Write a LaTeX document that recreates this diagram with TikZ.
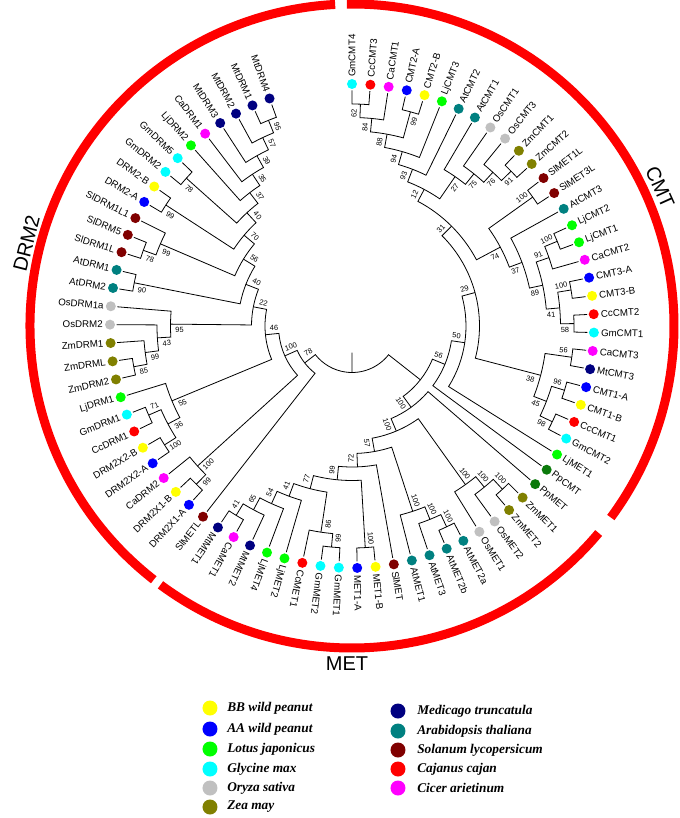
\documentclass[tikz,border=0pt]{standalone}
\usepackage{fontspec}
\setmainfont{Liberation Sans}
\newfontfamily\legfont{Liberation Serif}
\definecolor{cyB}{HTML}{00FFFF}
\definecolor{rdB}{HTML}{FF0000}
\definecolor{mgB}{HTML}{FF00FF}
\definecolor{blB}{HTML}{0000FF}
\definecolor{ylB}{HTML}{FFFF00}
\definecolor{grB}{HTML}{00FF00}
\definecolor{tlB}{HTML}{008080}
\definecolor{gyB}{HTML}{C0C0C0}
\definecolor{olB}{HTML}{808000}
\definecolor{drB}{HTML}{800000}
\definecolor{nvB}{HTML}{000080}
\definecolor{dgB}{HTML}{0B7A0B}
\newcommand\dA{4.36}
\newcommand\Rz{235.5}
\newcommand\St{13.5}
\newcommand\lf[3]{%
  \pgfmathsetmacro\mya{#1*\dA}%
  \expandafter\xdef\csname A@#2\endcsname{\mya}%
  \expandafter\xdef\csname H@#2\endcsname{0}%
  \pgfmathsetmacro\myp{90-\mya}%
  \node[dot, fill=#3] (#2) at (\myp:242) {};
  \ifnum#1<50
    \node[lab, anchor=west, rotate=\myp] (#2-t) at (\myp:249) {#2};
  \else
    \node[lab, anchor=east, rotate=\myp+180] (#2-t) at (\myp:249) {#2};
  \fi}
\newcommand\cl[5]{%
  \edef\ca{\csname A@#2\endcsname}\edef\cb{\csname A@#3\endcsname}%
  \edef\ha{\csname H@#2\endcsname}\edef\hb{\csname H@#3\endcsname}%
  \pgfmathsetmacro\mya{(\ca+\cb)/2}%
  \pgfmathtruncatemacro\myh{1+max(\ha,\hb)}%
  \expandafter\xdef\csname A@#1\endcsname{\mya}%
  \expandafter\xdef\csname H@#1\endcsname{\myh}%
  \pgfmathsetmacro\myr{\Rz-\St*\myh}%
  \pgfmathsetmacro\rA{\Rz-\St*\ha}%
  \pgfmathsetmacro\rB{\Rz-\St*\hb}%
  \pgfmathsetmacro\pA{90-\ca}%
  \pgfmathsetmacro\pB{90-\cb}%
  \draw[br] (\pA:\rA) -- (\pA:\myr) arc[start angle=\pA, end angle=\pB, radius=\myr] -- (\pB:\rB);
  \ifnum#5=0 \else
    \pgfmathsetmacro\lr{\myr-9}%
    \pgfmathsetmacro\lt{\mya+#5*6/\lr*57.2958}%
    \pgfmathsetmacro\lp{90-\lt}%
    \pgfmathsetmacro\lrot{\lt<180 ? \lp : \lp+180}%
    \node[bs, rotate=\lrot] (b#1) at (\lp:\lr) {#4};
  \fi}
\begin{document}
\begin{tikzpicture}[x=0.75pt,y=0.75pt,
  br/.style={line width=0.6pt, black},
  dot/.style={circle, inner sep=0pt, minimum size=7.5pt, draw=none},
  lab/.style={inner sep=0pt, font=\fontsize{7.3}{8}\selectfont},
  bs/.style={inner sep=0pt, font=\fontsize{5.6}{6}\selectfont},
  grp/.style={line width=6.75pt, rdB},
  grplab/.style={inner sep=0pt, font=\fontsize{15}{16}\selectfont},
  legdot/.style={circle, inner sep=0pt, minimum size=11.25pt, draw=none},
  legtxt/.style={inner sep=0pt, anchor=west, font=\legfont\bfseries\itshape\fontsize{10}{12}\selectfont}]
\useasboundingbox (-352,-492) rectangle (328,326);
% leaves
\lf{0}{GmCMT4}{cyB}
\lf{1}{CcCMT3}{rdB}
\lf{2}{CaCMT1}{mgB}
\lf{3}{CMT2-A}{blB}
\lf{4}{CMT2-B}{ylB}
\lf{5}{LjCMT3}{grB}
\lf{6}{AtCMT2}{tlB}
\lf{7}{AtCMT1}{tlB}
\lf{8}{OsCMT1}{gyB}
\lf{9}{OsCMT3}{gyB}
\lf{10}{ZmCMT1}{olB}
\lf{11}{ZmCMT2}{olB}
\lf{12}{SlMET1L}{drB}
\lf{13}{SlMET3L}{drB}
\lf{14}{AtCMT3}{tlB}
\lf{15}{LjCMT2}{grB}
\lf{16}{LjCMT1}{grB}
\lf{17}{CaCMT2}{mgB}
\lf{18}{CMT3-A}{blB}
\lf{19}{CMT3-B}{ylB}
\lf{20}{CcCMT2}{rdB}
\lf{21}{GmCMT1}{cyB}
\lf{22}{CaCMT3}{mgB}
\lf{23}{MtCMT3}{nvB}
\lf{24}{CMT1-A}{blB}
\lf{25}{CMT1-B}{ylB}
\lf{26}{CcCMT1}{rdB}
\lf{27}{GmCMT2}{cyB}
\lf{28}{LjMET1}{grB}
\lf{29}{PpCMT}{dgB}
\lf{30}{PpMET}{dgB}
\lf{31}{ZmMET1}{olB}
\lf{32}{ZmMET2}{olB}
\lf{33}{OsMET2}{gyB}
\lf{34}{OsMET1}{gyB}
\lf{35}{AtMET2a}{tlB}
\lf{36}{AtMET2b}{tlB}
\lf{37}{AtMET3}{tlB}
\lf{38}{AtMET1}{tlB}
\lf{39}{SlMET}{drB}
\lf{40}{MET1-B}{ylB}
\lf{41}{MET1-A}{blB}
\lf{42}{GmMET1}{cyB}
\lf{43}{GmMET2}{cyB}
\lf{44}{CcMET1}{rdB}
\lf{45}{LjMET2}{grB}
\lf{46}{LjMET4}{grB}
\lf{47}{MtMET2}{nvB}
\lf{48}{CaMET1}{mgB}
\lf{49}{MtMET1}{nvB}
\lf{50}{SlMETL}{drB}
\lf{51}{DRM2X1-A}{blB}
\lf{52}{DRM2X1-B}{ylB}
\lf{53}{CaDRM2}{mgB}
\lf{54}{DRM2X2-A}{blB}
\lf{55}{DRM2X2-B}{ylB}
\lf{56}{CcDRM1}{rdB}
\lf{57}{GmDRM1}{cyB}
\lf{58}{LjDRM1}{grB}
\lf{59}{ZmDRM2}{olB}
\lf{60}{ZmDRML}{olB}
\lf{61}{ZmDRM1}{olB}
\lf{62}{OsDRM2}{gyB}
\lf{63}{OsDRM1a}{gyB}
\lf{64}{AtDRM2}{tlB}
\lf{65}{AtDRM1}{tlB}
\lf{66}{SlDRM1L}{drB}
\lf{67}{SlDRM5}{drB}
\lf{68}{SlDRM1L1}{drB}
\lf{69}{DRM2-A}{blB}
\lf{70}{DRM2-B}{ylB}
\lf{71}{GmDRM2}{cyB}
\lf{72}{GmDRM5}{cyB}
\lf{73}{LjDRM2}{grB}
\lf{74}{CaDRM1}{mgB}
\lf{75}{MtDRM3}{nvB}
\lf{76}{MtDRM2}{nvB}
\lf{77}{MtDRM1}{nvB}
\lf{78}{MtDRM4}{nvB}
% CMT clades
\cl{A}{GmCMT4}{CcCMT3}{62}{-1}
\cl{B}{A}{CaCMT1}{84}{-1}
\cl{C}{CMT2-A}{CMT2-B}{99}{1}
\cl{D}{B}{C}{88}{-1}
\cl{E}{D}{LjCMT3}{94}{-1}
\cl{F}{E}{AtCMT2}{93}{-1}
\cl{G}{ZmCMT1}{ZmCMT2}{91}{1}
\cl{H}{OsCMT3}{G}{76}{1}
\cl{I}{OsCMT1}{H}{75}{1}
\cl{J}{AtCMT1}{I}{27}{1}
\cl{K}{F}{J}{12}{-1}
\cl{L}{SlMET1L}{SlMET3L}{100}{-1}
\cl{M}{LjCMT2}{LjCMT1}{100}{-1}
\cl{N}{M}{CaCMT2}{91}{-1}
\cl{O}{CMT3-A}{CMT3-B}{100}{-1}
\cl{P}{CcCMT2}{GmCMT1}{58}{1}
\cl{Q}{O}{P}{41}{1}
\cl{R}{N}{Q}{89}{1}
\cl{S}{AtCMT3}{R}{37}{1}
\cl{T}{L}{S}{74}{1}
\cl{U}{K}{T}{31}{-1}
\cl{V}{CaCMT3}{MtCMT3}{56}{-1}
\cl{W}{CMT1-A}{CMT1-B}{96}{-1}
\cl{Xn}{CcCMT1}{GmCMT2}{98}{1}
\cl{Y}{W}{Xn}{45}{1}
\cl{Z}{V}{Y}{38}{1}
\cl{AA}{U}{Z}{29}{-1}
\cl{AB}{AA}{LjMET1}{50}{-1}
\cl{AC}{AB}{PpCMT}{56}{-1}
% MET clades
\cl{MZa}{ZmMET1}{ZmMET2}{100}{-1}
\cl{MZb}{MZa}{OsMET2}{100}{-1}
\cl{MZc}{MZb}{OsMET1}{100}{-1}
\cl{MAa}{AtMET2a}{AtMET2b}{100}{-1}
\cl{MAb}{MAa}{AtMET3}{100}{-1}
\cl{MAc}{MAb}{AtMET1}{100}{-1}
\cl{Ma}{MET1-B}{MET1-A}{100}{-1}
\cl{GCa}{GmMET1}{GmMET2}{99}{-1}
\cl{GCb}{GCa}{CcMET1}{86}{-1}
\cl{MMa}{CaMET1}{MtMET1}{41}{1}
\cl{MMb}{MtMET2}{MMa}{65}{1}
\cl{MMc}{LjMET4}{MMb}{54}{1}
\cl{MMd}{LjMET2}{MMc}{41}{1}
\cl{MMe}{GCb}{MMd}{77}{1}
\cl{Nf}{Ma}{MMe}{99}{1}
\cl{Ne}{SlMET}{Nf}{72}{1}
\cl{Nd}{MAc}{Ne}{57}{1}
\cl{Nc}{MZc}{Nd}{100}{1}
\cl{Nb}{PpMET}{Nc}{100}{1}
\cl{X}{AC}{Nb}{}{0}
% DRM2 clades
\cl{DXa}{DRM2X1-A}{DRM2X1-B}{99}{-1}
\cl{DXb}{DXa}{CaDRM2}{100}{-1}
\cl{DXc}{DRM2X2-A}{DRM2X2-B}{100}{-1}
\cl{GCd}{CcDRM1}{GmDRM1}{71}{1}
\cl{Dd}{DXc}{GCd}{36}{-1}
\cl{De}{Dd}{LjDRM1}{55}{-1}
\cl{OZa}{ZmDRM2}{ZmDRML}{85}{-1}
\cl{OZb}{OZa}{ZmDRM1}{99}{-1}
\cl{OZc}{OZb}{OsDRM2}{43}{-1}
\cl{OZd}{OZc}{OsDRM1a}{95}{-1}
\cl{AD}{AtDRM2}{AtDRM1}{90}{-1}
\cl{SDa}{SlDRM1L}{SlDRM5}{78}{-1}
\cl{SDb}{SDa}{SlDRM1L1}{99}{-1}
\cl{DD}{DRM2-A}{DRM2-B}{99}{-1}
\cl{GD}{GmDRM2}{GmDRM5}{78}{-1}
\cl{MDa}{MtDRM1}{MtDRM4}{95}{1}
\cl{MDb}{MtDRM2}{MDa}{57}{1}
\cl{MDc}{MtDRM3}{MDb}{39}{1}
\cl{MDd}{CaDRM1}{MDc}{35}{1}
\cl{MDe}{LjDRM2}{MDd}{37}{1}
\cl{MDf}{GD}{MDe}{40}{1}
\cl{MDg}{DD}{MDf}{70}{1}
\cl{MDh}{SDb}{MDg}{56}{1}
\cl{MDi}{AD}{MDh}{40}{1}
\cl{MDj}{OZd}{MDi}{22}{1}
\cl{MDk}{De}{MDj}{46}{1}
\cl{Lb}{DXb}{MDk}{100}{1}
\cl{La}{SlMETL}{Lb}{78}{1}
\cl{Root}{X}{La}{}{0}
% root stub
\pgfmathsetmacro\rootp{90-\csname A@Root\endcsname}
\coordinate (rootpt) at (\rootp:46.5);
\coordinate (rootend) at (\rootp:26.5);
\draw[br] (rootpt) -- (rootend);
% group arcs
\draw[grp] (-128:322) arc[start angle=-128, end angle=-267, radius=322];
\draw[grp] (90.9:322) arc[start angle=90.9, end angle=-36.5, radius=322];
\draw[grp] (-40:322) arc[start angle=-40, end angle=-126.5, radius=322];
\node[grplab, rotate=-65.7] (cmtlab) at ({90-65.7}:338) {CMT};
\node[grplab, rotate=75.7] (drmlab) at ({90-284.3}:336) {DRM2};
\node[grplab] (metlab) at (-5,-338) {MET};
% legend
\node[legdot, fill=ylB] (k1) at (-142,-382) {};
\node[legtxt] at (-125,-382) {BB wild peanut};
\node[legdot, fill=blB] (k2) at (-142,-403) {};
\node[legtxt] at (-125,-403) {AA wild peanut};
\node[legdot, fill=grB] (k3) at (-142,-423) {};
\node[legtxt] at (-125,-423) {Lotus japonicus};
\node[legdot, fill=cyB] (k4) at (-142,-443) {};
\node[legtxt] at (-125,-443) {Glycine max};
\node[legdot, fill=gyB] (k5) at (-142,-462) {};
\node[legtxt] at (-125,-462) {Oryza sativa};
\node[legdot, fill=olB] (k6) at (-142,-481) {};
\node[legtxt] at (-125,-481) {Zea may};
\node[legdot, fill=nvB] (k7) at (46,-385) {};
\node[legtxt] at (65,-385) {Medicago truncatula};
\node[legdot, fill=tlB] (k8) at (46,-405) {};
\node[legtxt] at (65,-405) {Arabidopsis thaliana};
\node[legdot, fill=drB] (k9) at (46,-424) {};
\node[legtxt] at (65,-424) {Solanum lycopersicum};
\node[legdot, fill=rdB] (k10) at (46,-443) {};
\node[legtxt] at (65,-443) {Cajanus cajan};
\node[legdot, fill=mgB] (k11) at (46,-462) {};
\node[legtxt] at (65,-462) {Cicer arietinum};
\end{tikzpicture}
\end{document}
